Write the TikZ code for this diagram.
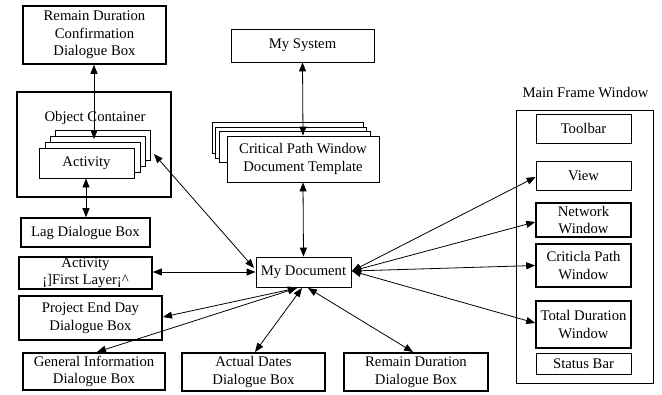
\documentclass[tikz,border=0pt]{standalone}
\usepackage{fontspec}
\setmainfont{Liberation Serif}
\usetikzlibrary{arrows.meta}
\begin{document}
\begin{tikzpicture}[x=1pt,y=-1pt,
  every node/.style={font=\fontsize{14.7}{17.5}\selectfont},
  bx/.style={draw, line width=0.8pt, fill=white, inner sep=0pt, align=center},
  tbx/.style={bx, line width=1.6pt},
  con/.style={line width=0.8pt, {Triangle[length=9pt,width=7pt]}-{Triangle[length=9pt,width=7pt]}},
  lbl/.style={inner sep=0pt}]
\useasboundingbox (0,0) rectangle (662,394);
% Remain duration confirmation
\node[tbx, minimum width=143pt, minimum height=58pt] (rdc) at (94.5,35) {Remain Duration\\Confirmation\\Dialogue Box};
% Object container
\node[tbx, minimum width=154pt, minimum height=105pt] (oc) at (94,144.5) {};
\node[lbl] (ocl) at (95,118) {Object Container};
\node[bx, minimum width=95pt, minimum height=30pt] (act4) at (102.5,145) {};
\node[bx, minimum width=95pt, minimum height=30pt] (act3) at (97.5,151) {};
\node[bx, minimum width=95pt, minimum height=30pt] (act2) at (92.5,157) {};
\node[bx, minimum width=95pt, minimum height=30pt] (act1) at (86.5,163) {Activity};
% left column
\node[tbx, minimum width=129pt, minimum height=29pt] (lag) at (85.5,232.5) {Lag Dialogue Box};
\node[tbx, minimum width=133pt, minimum height=32pt, font=\fontsize{14.7}{17}\selectfont] (afl) at (85.5,273) {Activity\\¡]First Layer¡\textasciicircum{}};
\node[tbx, minimum width=143pt, minimum height=44pt] (ped) at (90.5,318) {Project End Day\\Dialogue Box};
\node[tbx, minimum width=142pt, minimum height=37pt] (gen) at (94,371.5) {General Information\\Dialogue Box};
\node[tbx, minimum width=143pt, minimum height=38pt] (adt) at (253.5,372) {Actual Dates\\Dialogue Box};
\node[tbx, minimum width=144pt, minimum height=38pt] (rdd) at (416,372) {Remain Duration\\Dialogue Box};
% center
\node[bx, minimum width=143pt, minimum height=33pt] (sys) at (302.5,45.5) {My System};
\node[bx, minimum width=151pt, minimum height=31pt] (cpw3) at (287.5,137.5) {};
\node[bx, minimum width=151pt, minimum height=31pt] (cpw2) at (290.5,142.5) {};
\node[bx, minimum width=151pt, minimum height=31pt] (cpw1) at (294.5,146.5) {};
\node[bx, minimum width=152pt, minimum height=46pt] (cpw) at (303,159) {Critical Path Window\\Document Template};
\node[bx, minimum width=95pt, minimum height=30pt] (doc) at (303.5,272) {My Document};
% main frame
\node[lbl] (mfl) at (585.5,93) {Main Frame Window};
\node[bx, minimum width=137pt, minimum height=273pt] (mf) at (584.5,246.5) {};
\node[bx, minimum width=95pt, minimum height=29pt] (tool) at (583.5,128.5) {Toolbar};
\node[bx, minimum width=95pt, minimum height=29pt] (view) at (583.5,175.5) {View};
\node[tbx, minimum width=95pt, minimum height=34pt] (net) at (583.5,220) {Network\\Window};
\node[tbx, minimum width=95pt, minimum height=43pt] (cpwin) at (583.5,265.5) {Criticla Path\\Window};
\node[tbx, minimum width=95pt, minimum height=47pt] (tdw) at (583.5,324.5) {Total Duration\\Window};
\node[bx, minimum width=95pt, minimum height=21pt] (stat) at (583.5,363.5) {Status Bar};
% connection points
\coordinate (actTop) at (94,139);
\coordinate (actR) at (154,154);
\coordinate (docL) at (254,268);
\coordinate (docB1) at (297,288);
\coordinate (docB2) at (302,288);
\coordinate (docB3) at (308,288);
\coordinate (docR) at (352,271);
\coordinate (pedR) at (163,317);
\coordinate (genT) at (97,352);
\coordinate (adtT) at (255,352);
\coordinate (rddT) at (413,352);
% connectors
\draw[con] (rdc.south -| actTop) -- (actTop);
\draw[con] (act1.south -| 86,0) -- (lag.north -| 86,0);
\draw[con] (actR) -- (docL);
\draw[con] (sys.south) -- (cpw.north);
\draw[con] (cpw.south) -- (doc.north);
\draw[con] (doc.west) -- (afl.east |- doc.west);
\draw[con] (docB1) -- (pedR);
\draw[con] (docB1) -- (genT);
\draw[con] (docB2) -- (adtT);
\draw[con] (docB3) -- (rddT);
\draw[con] (docR) -- (view.west |- 0,177);
\draw[con] (docR) -- (net.west |- 0,222);
\draw[con] (docR) -- (cpwin.west);
\draw[con] (docR) -- (tdw.west |- 0,323);
\end{tikzpicture}
\end{document}
